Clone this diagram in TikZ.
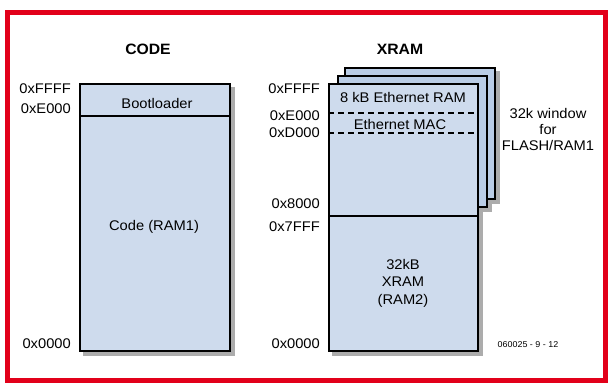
\documentclass[tikz,border=0pt]{standalone}
\usepackage{fontspec}
\setmainfont[FakeStretch=1.05]{Liberation Sans}
\definecolor{memblue}{RGB}{206,219,237}
\definecolor{memblueback}{RGB}{186,205,230}
\definecolor{shadowgrey}{RGB}{172,172,172}
\definecolor{framered}{RGB}{226,0,26}
\usetikzlibrary{positioning,calc,backgrounds}

\begin{document}
\begin{tikzpicture}[x=1pt,y=-1pt,
  membox/.style={draw=black,line width=1.5pt,fill=memblue,rectangle,inner sep=0pt,anchor=north west},
  backbox/.style={membox,fill=memblueback},
  addr/.style={anchor=east,inner sep=0pt,font=\fontsize{14}{16}\selectfont},
  label/.style={inner sep=0pt,align=center,font=\fontsize{14}{17.5}\selectfont},
  heading/.style={inner sep=0pt,font=\bfseries\fontsize{15}{18}\selectfont}]
  \useasboundingbox (0,0) rectangle (612,383);
  % red frame
  \draw[framered,line width=5pt] (7.5,12.5) rectangle (605.5,380.5);

  % CODE space
  \node[heading] (codetitle) at (148,49) {CODE};
  \node[membox,minimum width=150,minimum height=267] (code) at (79,83) {};
  \draw[line width=1.2pt] (code.west |- 0,116) -- (code.east |- 0,116);
  \node[label] (boot) at (157,103) {Bootloader};
  \node[label] (ram1) at (154,227) {Code (RAM1)};
  \node[addr] (cffff) at (71,89) {0xFFFF};
  \node[addr] (ce000) at (71,109) {0xE000};
  \node[addr] (c0000) at (71,344) {0x0000};

  % XRAM space (stacked banks)
  \node[heading] (xramtitle) at (400,49) {XRAM};
  \node[backbox,minimum width=150,minimum height=131] (xback) at (344,67) {};
  \node[backbox,minimum width=149,minimum height=131] (xmid) at (337,75) {};
  \node[membox,minimum width=149,minimum height=267] (xfront) at (328,83) {};
  \draw[line width=1.2pt,dash pattern=on 6pt off 4pt] (xfront.west |- 0,113) -- (xfront.east |- 0,113);
  \draw[line width=1.2pt,dash pattern=on 6pt off 4pt] (xfront.west |- 0,133) -- (xfront.east |- 0,133);
  \draw[line width=1.2pt] (xfront.west |- 0,216) -- (xfront.east |- 0,216);
  \node[label] (ethram) at (403,97) {8 kB Ethernet RAM};
  \node[label] (ethmac) at (400,124) {Ethernet MAC};
  \node[label] (ram2) at (403,283) {32kB\\XRAM\\(RAM2)};
  \node[label,font=\fontsize{14}{16}\selectfont] (window) at (548,129) {32k window\\for\\FLASH/RAM1};
  \node[addr] (xffff) at (320,89) {0xFFFF};
  \node[addr] (xe000) at (320,116) {0xE000};
  \node[addr] (xd000) at (320,133) {0xD000};
  \node[addr] (x8000) at (320,204) {0x8000};
  \node[addr] (x7fff) at (320,227) {0x7FFF};
  \node[addr] (x0000) at (320,344) {0x0000};
  \node[inner sep=0pt,font=\fontsize{8.5}{10}\selectfont] (tag) at (528,345) {060025 - 9 - 12};

  % shadows behind all boxes
  \begin{pgfonlayer}{background}
    \foreach \b in {code,xback,xmid,xfront}
      \fill[shadowgrey] ($(\b.north west)+(4,4)$) rectangle ($(\b.south east)+(4,4)$);
  \end{pgfonlayer}
\end{tikzpicture}
\end{document}
